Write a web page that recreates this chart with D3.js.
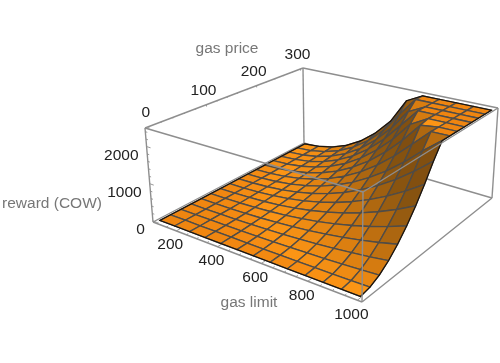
<!DOCTYPE html>
<html>
<head>
<meta charset="utf-8">
<script src="https://d3js.org/d3.v7.min.js"></script>
<style>
  html, body { margin: 0; background: #fff; overflow: hidden; }
  svg { display: block; filter: blur(0.45px); }
  text { font-family: "Liberation Sans", sans-serif; font-size: 15.5px; }
</style>
</head>
<body>
<svg id="chart" width="500" height="363"></svg>
<script>
// gas limit along one side, gas price along the other
const gasLimit = [100, 175, 250, 325, 400, 475, 550, 625, 700, 775, 850, 925, 1000];
const gasPrice = [0, 18.75, 37.5, 56.25, 75, 93.75, 112.5, 131.25, 150, 168.75, 187.5, 206.25, 225, 243.75, 262.5, 281.25, 300];

// reward (COW), one row per gas price
const reward = [
  [0, 0, 0, 0, 0, 0, 0, 0, 0, 0, 0, 0, 0],
  [0, 0, 1, 2, 4, 6, 9, 12, 17, 22, 28, 35, 44],
  [0, 1, 4, 8, 13, 21, 31, 44, 60, 79, 102, 128, 158],
  [1, 3, 8, 16, 28, 45, 67, 94, 128, 168, 216, 271, 334],
  [1, 5, 13, 27, 48, 76, 113, 160, 217, 286, 367, 461, 569],
  [2, 8, 20, 41, 73, 115, 171, 242, 329, 433, 555, 697, 861],
  [2, 11, 29, 58, 102, 162, 240, 339, 460, 606, 778, 977, 1206],
  [3, 14, 38, 77, 135, 215, 319, 451, 612, 806, 1034, 1299, 1604],
  [4, 19, 49, 99, 173, 275, 409, 577, 784, 1032, 1324, 1663, 2053],
  [5, 23, 60, 123, 215, 342, 508, 717, 975, 1283, 1646, 2068, 2450],
  [6, 28, 73, 149, 261, 416, 618, 872, 1184, 1559, 2000, 2450, 2450],
  [7, 33, 88, 178, 312, 496, 737, 1040, 1413, 1860, 2386, 2450, 2450],
  [9, 39, 103, 209, 366, 582, 865, 1221, 1660, 2185, 2450, 2450, 2450],
  [10, 45, 119, 242, 425, 675, 1004, 1416, 1925, 2450, 2450, 2450, 2450],
  [12, 52, 137, 278, 487, 774, 1151, 1624, 2207, 2450, 2450, 2450, 2450],
  [13, 59, 156, 316, 554, 880, 1308, 1900, 2450, 2450, 2450, 2450, 2450],
  [15, 67, 175, 356, 624, 991, 1474, 2200, 2450, 2450, 2450, 2450, 2450]
];

const limitTicks = [200, 400, 600, 800, 1000];
const limitMinor = d3.range(100, 1001, 50);
const priceTicks = [0, 100, 200, 300];
const priceMinor = d3.range(0, 301, 20);
const rewardTicks = [0, 1000, 2000];
const rewardMinor = d3.range(0, 2401, 200);

const svg = d3.select("#chart");

// data to unit cube, the box has a little padding round the surface
const u = d3.scaleLinear().domain([82, 1018]).range([0, 1]);
const v = d3.scaleLinear().domain([-6, 306]).range([0, 1]);
const w = d3.scaleLinear().domain([-30, 2500]).range([0, 1]);

// where the corners of the box land: front-left, front-right, back-right, back-left
const floorCorners = [[153, 222], [362, 302], [492, 198], [304, 143]];
const roofCorners = [[145, 128], [363, 192], [498, 108], [303, 68]];

// unit square to quad
function squareToQuad(q) {
  const [[x0, y0], [x1, y1], [x2, y2], [x3, y3]] = q;
  const dx1 = x1 - x2, dx2 = x3 - x2, sx = x0 - x1 + x2 - x3;
  const dy1 = y1 - y2, dy2 = y3 - y2, sy = y0 - y1 + y2 - y3;
  const den = dx1 * dy2 - dx2 * dy1;
  const g = (sx * dy2 - dx2 * sy) / den;
  const h = (dx1 * sy - sx * dy1) / den;
  const a = x1 - x0 + g * x1, b = x3 - x0 + h * x3;
  const d = y1 - y0 + g * y1, e = y3 - y0 + h * y3;
  return (s, t) => {
    const k = g * s + h * t + 1;
    return [(a * s + b * t + x0) / k, (d * s + e * t + y0) / k];
  };
}
const floorMap = squareToQuad(floorCorners);
const roofMap = squareToQuad(roofCorners);

function project(s, t, r) {
  const p = floorMap(s, t), q = roofMap(s, t);
  return [p[0] + (q[0] - p[0]) * r, p[1] + (q[1] - p[1]) * r];
}

const line = d3.line();
const closed = d3.line().curve(d3.curveLinearClosed);

function drawEdges(edges) {
  svg.append("g")
    .selectAll("path")
    .data(edges)
    .enter()
    .append("path")
      .attr("d", d => line(d.map(c => project(c[0], c[1], c[2]))))
      .attr("fill", "none")
      .attr("stroke", "#8e8e8e")
      .attr("stroke-width", 1.4);
}

// box edges behind the surface
drawEdges([
  [[0, 0, 0], [1, 0, 0]], [[1, 0, 0], [1, 1, 0]], [[1, 1, 0], [0, 1, 0]], [[0, 1, 0], [0, 0, 0]],
  [[0, 0, 0], [0, 0, 1]], [[0, 1, 0], [0, 1, 1]], [[1, 1, 0], [1, 1, 1]],
  [[0, 0, 1], [0, 1, 1]], [[0, 1, 1], [1, 1, 1]]
]);

// ticks, major ones a bit longer
function drawTicks(values, majors, at) {
  svg.append("g")
    .selectAll("path")
    .data(values)
    .enter()
    .append("path")
      .attr("d", d => line(at(d, majors.includes(d) ? 0.022 : 0.011)))
      .attr("fill", "none")
      .attr("stroke", "#8e8e8e")
      .attr("stroke-width", 0.9);
}
drawTicks(limitMinor, limitTicks, (d, len) => [project(u(d), 0, 0), project(u(d), len, 0)]);
drawTicks(priceMinor, priceTicks, (d, len) => [project(0, v(d), 1), project(0, v(d), 1 - len)]);
drawTicks(rewardMinor, rewardTicks, (d, len) => [project(0, 0, w(d)), project(len, 0, w(d))]);

// shade follows the steepness of the surface
const shade = d3.scaleLinear()
  .domain([0, 0.25, 1, 2.5, 5])
  .range(["#ef8510", "#fc9515", "#d97d10", "#8a5510", "#6b4010"])
  .clamp(true);

// quads, far corner first so the near ones paint over them
const quads = [];
for (let i = 0; i < gasLimit.length - 1; i++) {
  for (let j = gasPrice.length - 2; j >= 0; j--) {
    quads.push({ i, j });
  }
}
const gridPoint = (i, j) => project(u(gasLimit[i]), v(gasPrice[j]), w(reward[j][i]));

function steepness(i, j) {
  const du = u(gasLimit[i + 1]) - u(gasLimit[i]);
  const dv = v(gasPrice[j + 1]) - v(gasPrice[j]);
  const gu = (w(reward[j][i + 1]) + w(reward[j + 1][i + 1]) - w(reward[j][i]) - w(reward[j + 1][i])) / (2 * du);
  const gv = (w(reward[j + 1][i]) + w(reward[j + 1][i + 1]) - w(reward[j][i]) - w(reward[j][i + 1])) / (2 * dv);
  return Math.hypot(gu, gv);
}

svg.append("g")
  .selectAll("path")
  .data(quads)
  .enter()
  .append("path")
    .attr("d", d => closed([gridPoint(d.i, d.j), gridPoint(d.i + 1, d.j), gridPoint(d.i + 1, d.j + 1), gridPoint(d.i, d.j + 1)]))
    .attr("fill", d => shade(steepness(d.i, d.j)))
    .attr("stroke", "#4f4c48")
    .attr("stroke-width", 1.35)
    .attr("stroke-linejoin", "round");

// dark outline of the sheet
const rim = [];
gasLimit.forEach((d, i) => rim.push(gridPoint(i, 0)));
gasPrice.forEach((d, j) => rim.push(gridPoint(gasLimit.length - 1, j)));
gasLimit.forEach((d, i) => rim.push(gridPoint(gasLimit.length - 1 - i, gasPrice.length - 1)));
gasPrice.forEach((d, j) => rim.push(gridPoint(0, gasPrice.length - 1 - j)));
svg.append("path")
  .attr("d", closed(rim))
  .attr("fill", "none")
  .attr("stroke", "#1c1208")
  .attr("stroke-width", 1.1);

// box edges in front of the surface
drawEdges([
  [[0, 0, 1], [1, 0, 1]], [[1, 0, 1], [1, 1, 1]], [[1, 0, 0], [1, 0, 1]]
]);

// tick labels
function drawLabels(values, at, dx, dy, anchor) {
  svg.append("g")
    .selectAll("text")
    .data(values)
    .enter()
    .append("text")
      .attr("x", d => at(d)[0] + dx)
      .attr("y", d => at(d)[1] + dy)
      .attr("text-anchor", anchor)
      .attr("dominant-baseline", "central")
      .attr("fill", "#222")
      .text(d => d);
}
drawLabels(limitTicks, d => project(u(d), 0, 0), -6, 13, "middle");
drawLabels(priceTicks, d => project(0, v(d), 1), -3, -15, "middle");
drawLabels(rewardTicks, d => project(0, 0, w(d)), -8, 8, "end");

// axis titles
const titles = [
  { label: "gas price", x: 227, y: 47 },
  { label: "gas limit", x: 249, y: 301 },
  { label: "reward (COW)", x: 52, y: 202 }
];
svg.append("g")
  .selectAll("text")
  .data(titles)
  .enter()
  .append("text")
    .attr("x", d => d.x)
    .attr("y", d => d.y)
    .attr("text-anchor", "middle")
    .attr("dominant-baseline", "central")
    .attr("fill", "#777")
    .text(d => d.label);
</script>
</body>
</html>
